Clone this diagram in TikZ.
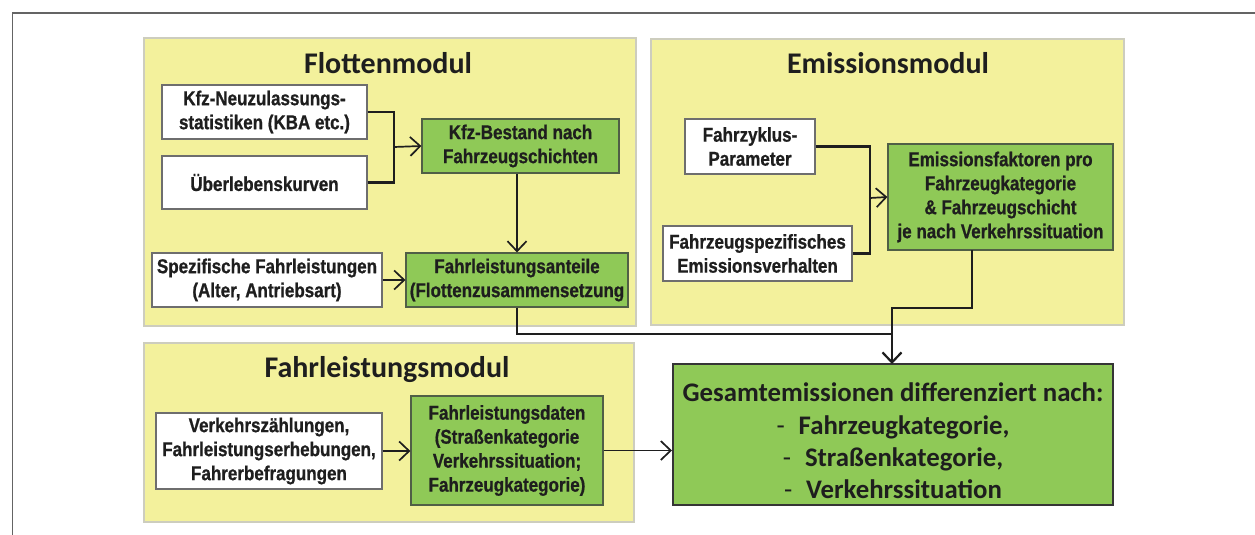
\documentclass[tikz,border=0pt]{standalone}
\usepackage{fontspec}
\setmainfont{Liberation Sans}
\newfontfamily\boxf[FakeStretch=0.85,FakeBold=0.8]{Liberation Sans}
\newfontfamily\calfont{Carlito}
\usetikzlibrary{arrows.meta,calc}
\definecolor{panelfill}{RGB}{243,241,156}
\definecolor{panelline}{RGB}{205,205,190}
\definecolor{gfill}{RGB}{143,201,87}
\definecolor{gline}{RGB}{80,95,70}
\definecolor{wline}{RGB}{110,110,110}
\definecolor{txt}{RGB}{30,30,30}
\definecolor{framecol}{RGB}{100,100,100}
\tikzset{
  panel/.style={fill=panelfill, draw=panelline, line width=1.2pt},
  title/.style={font={\calfont\bfseries\fontsize{30}{34}\selectfont}, text=txt, inner sep=0pt, anchor=base},
  bx/.style={align=center, inner sep=0pt, text=txt, line width=1.2pt,
     font={\boxf\bfseries\fontsize{20}{24}\selectfont}},
  wbox/.style={bx, fill=white, draw=wline},
  gbox/.style={bx, fill=gfill, draw=gline},
  conn/.style={draw=txt, line width=1.7pt},
  brk/.style={draw=txt, line width=2.2pt},
  arr/.style={-{Straight Barb[length=10pt,width=19pt]}},
}
\begin{document}
\begin{tikzpicture}[x=1pt,y=-1pt]
\useasboundingbox (0,0) rectangle (1255,535);
\fill[white] (0,0) rectangle (1255,535);
\draw[framecol, line width=1.3pt] (12.5,536) -- (12.5,13) -- (1256,13);

% panels
\draw[panel] (144,38) rectangle (636,326);
\draw[panel] (651,39) rectangle (1124,325);
\draw[panel] (144,343) rectangle (634,522);

% titles
\node[title] (t1) at (388,74) {Flottenmodul};
\node[title] (t2) at (888,74) {Emissionsmodul};
\node[title] (t3) at (387,377.5) {Fahrleistungsmodul};

% Flottenmodul
\node[wbox, minimum width=205, minimum height=54] (kfz) at (264.5,112) {Kfz-Neuzulassungs-\\statistiken (KBA etc.)};
\node[wbox, minimum width=205, minimum height=53] (ueb) at (264.5,182.5) {Überlebenskurven};
\node[gbox, minimum width=197, minimum height=54] (best) at (520.5,146) {Kfz-Bestand nach\\Fahrzeugschichten};
\node[wbox, minimum width=230, minimum height=54] (spez) at (267,280) {Spezifische Fahrleistungen\\(Alter, Antriebsart)};
\node[gbox, minimum width=222, minimum height=54] (fla) at (517,280) {Fahrleistungsanteile\\(Flottenzusammensetzung};

% Emissionsmodul
\node[wbox, minimum width=130, minimum height=55] (fzy) at (750,146.5) {Fahrzyklus-\\Parameter};
\node[wbox, minimum width=189, minimum height=55] (fsp) at (757.5,253.5) {Fahrzeugspezifisches\\Emissionsverhalten};
\node[gbox, minimum width=225, minimum height=106] (emf) at (1000.5,197) {Emissionsfaktoren pro\\Fahrzeugkategorie\\\& Fahrzeugschicht\\je nach Verkehrssituation};

% Fahrleistungsmodul
\node[wbox, minimum width=226, minimum height=76] (vkz) at (269,451) {Verkehrszählungen,\\Fahrleistungserhebungen,\\Fahrerbefragungen};
\node[gbox, minimum width=192, minimum height=109] (fld) at (507,450.5) {Fahrleistungsdaten\\(Straßenkategorie\\Verkehrssituation;\\Fahrzeugkategorie)};

% Gesamt
\node[align=center, inner sep=0pt, text=txt, fill=gfill, draw=txt!90, line width=2pt,
  minimum width=440, minimum height=141,
  font={\calfont\bfseries\fontsize{26.8}{32.3}\selectfont}] (ges) at (893,434.5)
  {\rule{0pt}{32pt}Gesamtemissionen differenziert nach:\\
   {\mdseries -}\hspace{14pt}Fahrzeugkategorie,\\
   {\mdseries -}\hspace{14pt}Straßenkategorie,\\
   {\mdseries -}\hspace{14pt}Verkehrssituation};

% connectors Flottenmodul
\coordinate (m1) at (394,147);
\draw[brk] (kfz.east) -| (m1);
\draw[brk] (ueb.east) -| (m1);
\draw[conn,arr] (m1) -- (best.west);
\draw[conn,arr] (fla.north |- best.south) -- (fla.north);
\draw[conn,arr] (spez.east) -- (fla.west);

% connectors Emissionsmodul
\coordinate (m2) at (870,198);
\draw[brk] (fzy.east) -| (m2);
\draw[brk] (fsp.east) -| (m2);
\draw[conn,arr] (m2) -- (emf.west);

% to Gesamt
\coordinate (gtop) at (892,364);
\coordinate (eo) at (972,250);
\draw[brk,arr] (eo) -- ++(0,58) -| (gtop);
\draw[brk] (fla.south) |- ($(gtop)+(0,-30)$);
\draw[conn,arr] (vkz.east) -- (vkz.east -| fld.west);
\draw[conn,arr] (fld.east) -- (fld.east -| ges.west);
\end{tikzpicture}
\end{document}
